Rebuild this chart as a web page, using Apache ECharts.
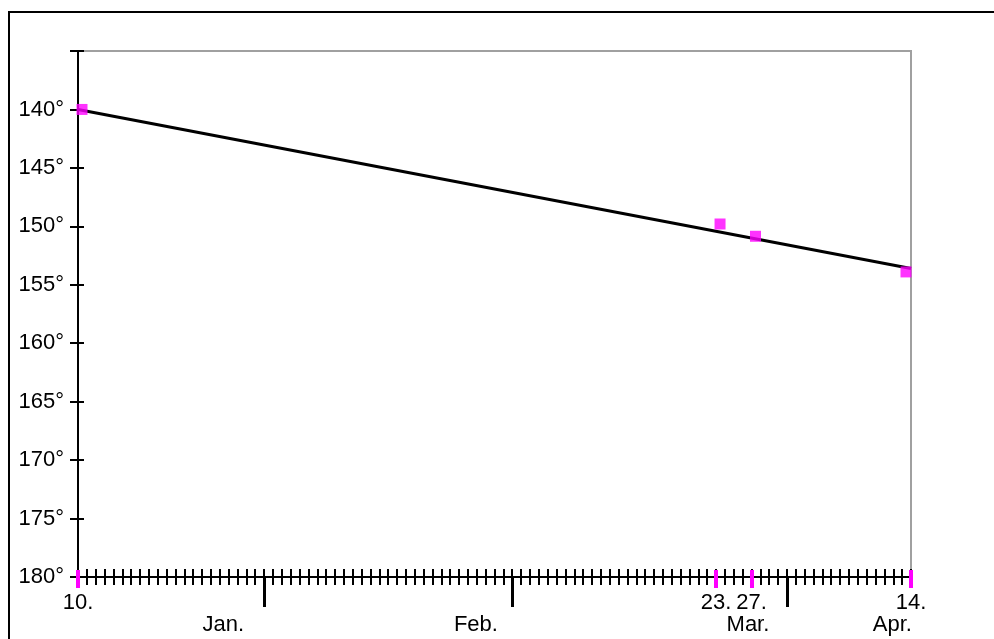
<!DOCTYPE html>
<html>
<head>
<meta charset="utf-8">
<script src="https://cdn.jsdelivr.net/npm/echarts@6/dist/echarts.min.js"></script>
<style>
html,body{margin:0;padding:0;background:#fff;}
#chart{width:994px;height:639px;}
</style>
</head>
<body>
<div id="chart"></div>
<script>
// Day index 0 = 10 Jan, 94 = 14 Apr
const axisDays = [0, 94];
const markedDays = [0, 72, 76, 94];
const markedDayLabels = ['10.', '23.', '27.', '14.'];
const observedValues = [140.0, 149.8, 150.85, 153.9];
const trendDays = [0, 94];
const trendValues = [140.0, 153.6];
const monthEndTicks = [21, 49, 80];
const monthLabelDays = [16.4, 44.9, 75.6, 91.9];
const monthNames = ['Jan.', 'Feb.', 'Mar.', 'Apr.'];
const yRange = [135, 180];
const yStep = 5;

const FONT = 'Liberation Sans, Arial, sans-serif';
const MAG = '#ff00ff';

const chart = echarts.init(document.getElementById('chart'));

function baseX(extra) {
  return Object.assign({
    type: 'value', min: axisDays[0], max: axisDays[1], interval: 1,
    position: 'bottom', splitLine: {show: false},
    axisLine: {show: false}, axisTick: {show: false}, axisLabel: {show: false}
  }, extra);
}
function baseY(extra) {
  return Object.assign({
    type: 'value', min: yRange[0], max: yRange[1], interval: yStep, inverse: true,
    position: 'left', splitLine: {show: false},
    axisLine: {show: false}, axisTick: {show: false}, axisLabel: {show: false}
  }, extra);
}

const option = {
  animation: false,
  backgroundColor: '#fff',
  graphic: [{
    type: 'rect', silent: true, z: 100,
    shape: {x: 9, y: 12, width: 1200, height: 1000},
    style: {fill: 'none', stroke: '#000', lineWidth: 2}
  }],
  grid: {left: 78, top: 51, width: 833, height: 526, show: true,
         borderColor: '#a0a0a0', borderWidth: 2, backgroundColor: 'transparent'},
  xAxis: [
    baseX({
      axisLine: {show: true, onZero: false, lineStyle: {color: '#000', width: 2}},
      axisTick: {show: true, length: 8, lineStyle: {color: '#000', width: 2}}
    }),
    baseX({
      axisTick: {show: true, inside: true, length: 8, lineStyle: {color: '#000', width: 2}}
    }),
    baseX({
      axisTick: {show: true, length: 30, customValues: monthEndTicks, lineStyle: {color: '#000', width: 3}},
      axisLabel: {show: true, customValues: monthLabelDays, margin: 37,
        fontFamily: FONT, fontSize: 22, color: '#000',
        formatter: function (v) {
          for (let i = 0; i < monthLabelDays.length; i++) {
            if (Math.abs(monthLabelDays[i] - v) < 1e-6) return monthNames[i];
          }
          return '';
        }}
    }),
    baseX({
      offset: -7,
      axisTick: {show: true, length: 18, customValues: markedDays, lineStyle: {color: MAG, width: 4}},
      axisLabel: {show: true, customValues: markedDays, margin: 22,
        fontFamily: FONT, fontSize: 22, color: '#000',
        formatter: function (v) {
          const i = markedDays.indexOf(v);
          return i >= 0 ? markedDayLabels[i] : '';
        }}
    })
  ],
  yAxis: [
    baseY({
      axisLine: {show: true, onZero: false, lineStyle: {color: '#000', width: 2}},
      axisTick: {show: true, length: 8, lineStyle: {color: '#000', width: 2}},
      axisLabel: {show: true, margin: 14, fontFamily: FONT, fontSize: 22, color: '#000',
        formatter: function (v) { return v === yRange[0] ? '' : v + '°'; }}
    }),
    baseY({
      axisTick: {show: true, inside: true, length: 6, lineStyle: {color: '#000', width: 2}}
    })
  ],
  series: [
    {
      type: 'line', xAxisIndex: 0, yAxisIndex: 0, symbol: 'none', z: 3,
      lineStyle: {color: '#000', width: 3},
      data: trendDays.map((d, i) => [d, trendValues[i]])
    },
    {
      type: 'scatter', xAxisIndex: 0, yAxisIndex: 0, symbol: 'rect', symbolSize: 11, z: 5,
      clip: false,
      itemStyle: {color: MAG},
      data: markedDays.map((d, i) => ({
        value: [d, observedValues[i]],
        symbolOffset: i === markedDays.length - 1 ? [-5, 0] : [4, 0]
      }))
    }
  ]
};
chart.setOption(option);
</script>
</body>
</html>
